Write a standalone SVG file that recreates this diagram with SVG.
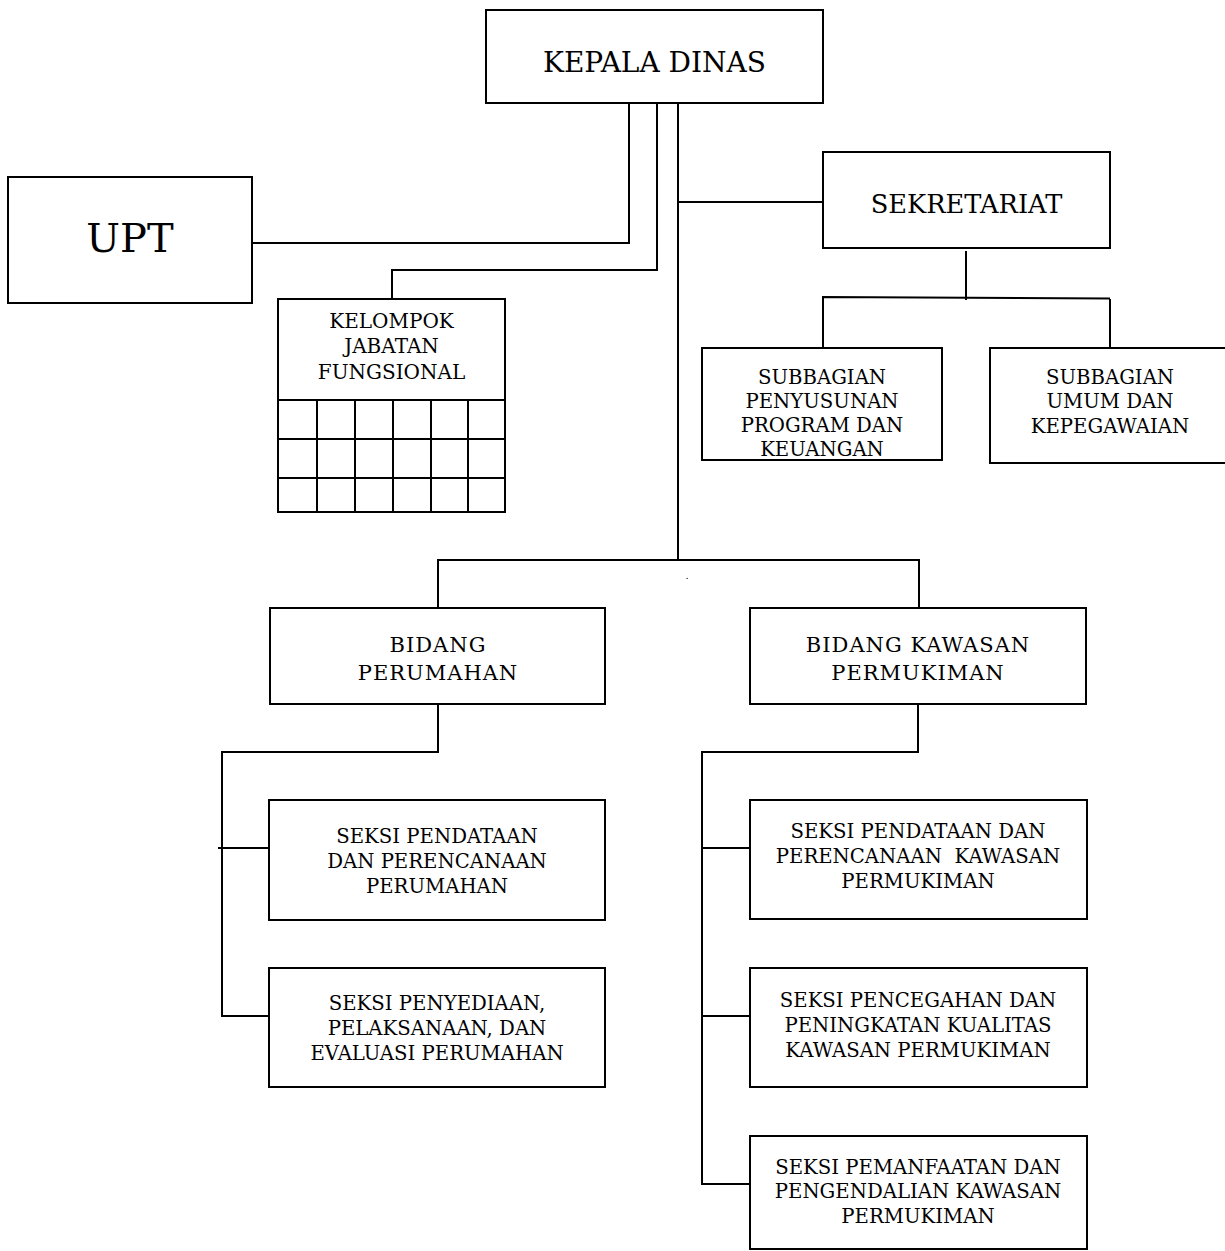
<svg xmlns="http://www.w3.org/2000/svg" width="1225" height="1251" viewBox="0 0 1225 1251">
<style>
  .box { fill: #fff; stroke: #000; stroke-width: 2; }
  .ln { fill: none; stroke: #000; stroke-width: 2; }
  text { font-family: "DejaVu Serif", "Liberation Serif", serif; fill: #000; text-anchor: middle; }
  .t19 { font-size: 19.7px; }
  .tk { font-size: 20px; }
  .tb { font-size: 21px; letter-spacing: 1px; }
</style>
<rect width="1225" height="1251" fill="#fff"/>
<g id="connectors">
  <path class="ln" d="M629 103 V243 H252"/>
  <path class="ln" d="M657 103 V270 H392 V299"/>
  <path class="ln" d="M678 103 V560"/>
  <path class="ln" d="M678 202 H823"/>
  <path class="ln" d="M966 251 V300"/>
  <path class="ln" d="M823 348 V297 L1110 298.5"/>
  <path class="ln" d="M1110 299 V348"/>
  <path class="ln" d="M438 608 V560 H919 V608"/>
  <path class="ln" d="M438 704 V752 H222 V1016 H269"/>
  <path class="ln" d="M218 848 H269"/>
  <path class="ln" d="M918 704 V752 H702 V1184 H750"/>
  <path class="ln" d="M702 848 H750"/>
  <path class="ln" d="M702 1016 H750"/>
</g>
<text x="687" y="579" font-size="10">.</text>
<g id="kepala-dinas">
  <rect class="box" x="486" y="10" width="337" height="93"/>
  <text x="654.5" y="72" font-size="28">KEPALA DINAS</text>
</g>
<g id="upt">
  <rect class="box" x="8" y="177" width="244" height="126"/>
  <text x="130" y="252" font-size="40">UPT</text>
</g>
<g id="kelompok-jabatan-fungsional">
  <rect class="box" x="278" y="299" width="227" height="213"/>
  <path class="ln" d="M278 400 H505 M278 439 H505 M278 478 H505 M317 400 V512 M355 400 V512 M393 400 V512 M431 400 V512 M468 400 V512"/>
  <text class="tk" x="391.5" y="328">KELOMPOK</text>
  <text class="tk" x="391.5" y="353">JABATAN</text>
  <text class="tk" x="391.5" y="379">FUNGSIONAL</text>
</g>
<g id="sekretariat">
  <rect class="box" x="823" y="152" width="287" height="96"/>
  <text x="966.5" y="213" font-size="25.7">SEKRETARIAT</text>
</g>
<g id="subbagian-penyusunan">
  <rect class="box" x="702" y="348" width="240" height="112"/>
  <text class="t19" x="822" y="384">SUBBAGIAN</text>
  <text class="t19" x="822" y="408">PENYUSUNAN</text>
  <text class="t19" x="822" y="432">PROGRAM DAN</text>
  <text class="t19" x="822" y="456">KEUANGAN</text>
</g>
<g id="subbagian-umum">
  <rect class="box" x="990" y="348" width="242" height="115"/>
  <text class="t19" x="1110" y="384">SUBBAGIAN</text>
  <text class="t19" x="1110" y="408">UMUM DAN</text>
  <text class="t19" x="1110" y="433">KEPEGAWAIAN</text>
</g>
<g id="bidang-perumahan">
  <rect class="box" x="270" y="608" width="335" height="96"/>
  <text class="tb" x="438" y="652">BIDANG</text>
  <text class="tb" x="438" y="680">PERUMAHAN</text>
</g>
<g id="bidang-kawasan-permukiman">
  <rect class="box" x="750" y="608" width="336" height="96"/>
  <text class="tb" x="918" y="652">BIDANG KAWASAN</text>
  <text class="tb" x="918" y="680">PERMUKIMAN</text>
</g>
<g id="seksi-pendataan-perumahan">
  <rect class="box" x="269" y="800" width="336" height="120"/>
  <text class="t19" x="437" y="843">SEKSI PENDATAAN</text>
  <text class="t19" x="437" y="868">DAN PERENCANAAN</text>
  <text class="t19" x="437" y="893">PERUMAHAN</text>
</g>
<g id="seksi-penyediaan">
  <rect class="box" x="269" y="968" width="336" height="119"/>
  <text class="t19" x="437" y="1010">SEKSI PENYEDIAAN,</text>
  <text class="t19" x="437" y="1035">PELAKSANAAN, DAN</text>
  <text class="t19" x="437" y="1060">EVALUASI PERUMAHAN</text>
</g>
<g id="seksi-pendataan-kawasan">
  <rect class="box" x="750" y="800" width="337" height="119"/>
  <text class="t19" x="918" y="838">SEKSI PENDATAAN DAN</text>
  <text class="t19" x="918" y="863" xml:space="preserve">PERENCANAAN  KAWASAN</text>
  <text class="t19" x="918" y="888">PERMUKIMAN</text>
</g>
<g id="seksi-pencegahan">
  <rect class="box" x="750" y="968" width="337" height="119"/>
  <text class="t19" x="918" y="1007">SEKSI PENCEGAHAN DAN</text>
  <text class="t19" x="918" y="1032">PENINGKATAN KUALITAS</text>
  <text class="t19" x="918" y="1057">KAWASAN PERMUKIMAN</text>
</g>
<g id="seksi-pemanfaatan">
  <rect class="box" x="750" y="1136" width="337" height="113"/>
  <text class="t19" x="918" y="1174">SEKSI PEMANFAATAN DAN</text>
  <text class="t19" x="918" y="1198">PENGENDALIAN KAWASAN</text>
  <text class="t19" x="918" y="1223">PERMUKIMAN</text>
</g>
</svg>
